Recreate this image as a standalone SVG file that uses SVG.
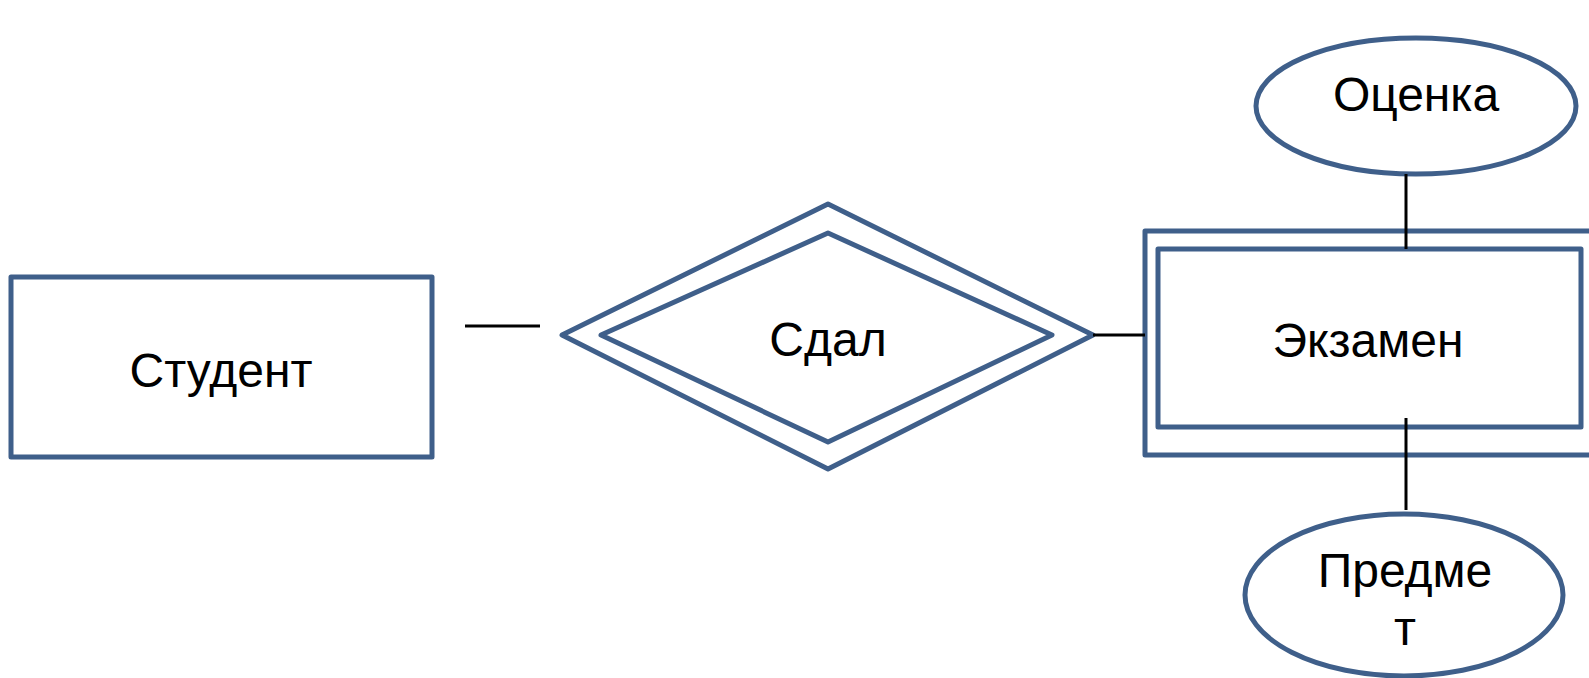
<svg xmlns="http://www.w3.org/2000/svg" width="1589" height="678" viewBox="0 0 1589 678">
  <style>
    .shape { fill: #ffffff; stroke: #3f5f8a; stroke-width: 5; stroke-linejoin: round; }
    .link { stroke: #000000; stroke-width: 3; fill: none; }
    .label { font-family: "Liberation Sans", Arial, sans-serif; font-size: 48px; fill: #000000; text-anchor: middle; }
  </style>
  <rect width="1589" height="678" fill="#ffffff"/>

  <!-- strong entity -->
  <g id="student">
    <rect class="shape" x="11" y="277" width="421" height="180"/>
    <text class="label" x="221" y="387">Студент</text>
  </g>

  <!-- identifying relationship -->
  <g id="sdal">
    <polygon class="shape" points="562,335 828,204 1093,335 828,469"/>
    <polygon class="shape" points="601,335 828,233 1052,335 828,442"/>
    <text class="label" x="828" y="356">Сдал</text>
  </g>

  <!-- weak entity -->
  <g id="ekzamen">
    <rect class="shape" x="1145" y="231" width="460" height="224"/>
    <rect class="shape" x="1158" y="249" width="423" height="178"/>
    <text class="label" x="1368" y="357">Экзамен</text>
  </g>

  <!-- attributes -->
  <g id="otsenka">
    <ellipse class="shape" cx="1416" cy="106" rx="160" ry="68"/>
    <text class="label" x="1416" y="111">Оценка</text>
  </g>

  <g id="predmet">
    <ellipse class="shape" cx="1404" cy="595" rx="159" ry="81"/>
    <text class="label" x="1405" y="587">Предме</text>
    <text class="label" x="1405" y="645">т</text>
  </g>

  <!-- connectors, drawn over the shapes -->
  <g id="connectors">
    <line class="link" x1="465" y1="326" x2="540" y2="326"/>
    <line class="link" x1="1093" y1="335" x2="1145" y2="335"/>
    <line class="link" x1="1406" y1="174" x2="1406" y2="249"/>
    <line class="link" x1="1406" y1="418" x2="1406" y2="510"/>
  </g>
</svg>
